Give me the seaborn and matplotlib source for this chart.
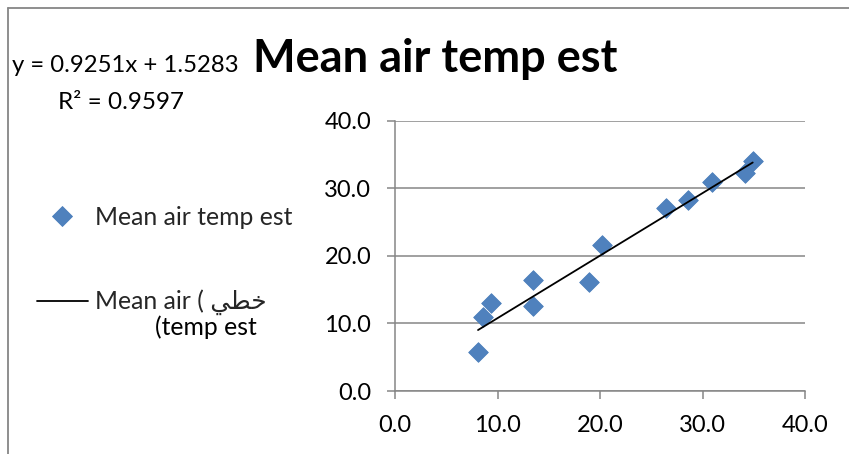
import numpy as np
import pandas as pd
import matplotlib
matplotlib.use("Agg")
import matplotlib.pyplot as plt
from matplotlib.lines import Line2D
from matplotlib.ticker import FormatStrFormatter
import seaborn as sns

# ---- data ----
mean_air_x = [8.1, 8.6, 9.4, 13.5, 13.5, 18.9, 20.2, 26.4, 28.6, 30.9, 34.1, 34.9]
mean_air_y = [5.7, 10.9, 13.0, 16.4, 12.6, 16.1, 21.6, 27.1, 28.2, 30.9, 32.2, 34.1]
trend_slope = 0.9251
trend_intercept = 1.5283
trend_r2 = 0.9597
title_text = "Mean air temp est"
series_label = "Mean air temp est"
# Arabic word "خطي" written in visual (presentation-form) order for left-to-right rendering
arabic_word = "\uFEF2\uFEC4\uFEA7"
trend_label_line1 = "Mean air ( " + arabic_word
trend_label_line2 = "(temp est"
axis_ticks = [0, 10, 20, 30, 40]

df = pd.DataFrame({"x": mean_air_x, "y": mean_air_y})
tx = np.array([min(mean_air_x), max(mean_air_x)])
trend_df = pd.DataFrame({"x": tx, "y": trend_slope * tx + trend_intercept})

sns.set_theme(style="white")
plt.rcParams["font.family"] = ["Lato", "DejaVu Sans"]

W, H = 849, 454
fig = plt.figure(figsize=(W / 100, H / 100), dpi=100)
ax = fig.add_axes([395 / W, 1 - 391 / H, (805 - 395) / W, (391 - 120.7) / H])

GRAY = "#868686"
BLUE = "#4F81BD"

sns.scatterplot(data=df, x="x", y="y", marker="D", s=100, color=BLUE,
                edgecolor="#4A7EBB", linewidth=0.6, ax=ax, zorder=3,
                label=series_label, legend=False)
sns.lineplot(data=trend_df, x="x", y="y", color="black", linewidth=1.3,
             ax=ax, zorder=4, legend=False)

ax.set_xlim(axis_ticks[0], axis_ticks[-1])
ax.set_ylim(axis_ticks[0], axis_ticks[-1])
ax.set_xticks(axis_ticks)
ax.set_yticks(axis_ticks)
ax.xaxis.set_major_formatter(FormatStrFormatter("%.1f"))
ax.yaxis.set_major_formatter(FormatStrFormatter("%.1f"))
ax.set_xlabel("")
ax.set_ylabel("")

ax.yaxis.grid(True, color=GRAY, linewidth=1.1)
ax.xaxis.grid(False)
ax.set_axisbelow(True)
for s in ["top", "right"]:
    ax.spines[s].set_visible(False)
for s in ["left", "bottom"]:
    ax.spines[s].set_color(GRAY)
    ax.spines[s].set_linewidth(1.1)
ax.tick_params(axis="both", which="major", direction="out", length=6,
               width=1.1, color=GRAY, labelsize=17, labelcolor="black",
               bottom=True, left=True)
ax.tick_params(axis="x", pad=11.5)
ax.tick_params(axis="y", pad=11)
for lab in ax.get_xticklabels() + ax.get_yticklabels():
    lab.set_clip_on(False)

# title and trendline equation
fig.text(435.5 / W, 1 - 72.5 / H, title_text, ha="center", va="baseline",
         fontsize=32.5, fontweight="bold", color="black")
fig.text(125 / W, 1 - 71.5 / H, f"y = {trend_slope:.4f}x + {trend_intercept:.4f}",
         ha="center", va="baseline", fontsize=17.2, color="black")
fig.text(121.5 / W, 1 - 109 / H, f"R² = {trend_r2:.4f}",
         ha="center", va="baseline", fontsize=17.5, color="black")

# legend
handles = [Line2D([], [], marker="D", linestyle="none", markersize=10,
                  markerfacecolor=BLUE, markeredgecolor="#4A7EBB", markeredgewidth=0.6),
           Line2D([], [], color="black", linewidth=1.3)]
leg = fig.legend(handles, [series_label, trend_label_line1],
                 loc="upper left", bbox_to_anchor=(36.5 / W, 1 - 206 / H),
                 frameon=False, fontsize=17.8, handlelength=2.1,
                 handletextpad=0.25, labelspacing=2.45, borderpad=0,
                 borderaxespad=0)
fig.text(257 / W, 1 - 335 / H, trend_label_line2, ha="right", va="baseline",
         fontsize=17.8, color="black")

# chart-area border (top and left edges visible)
fig.add_artist(Line2D([8 / W, 1], [1 - 8 / H, 1 - 8 / H], transform=fig.transFigure,
                      color=GRAY, linewidth=1.3))
fig.add_artist(Line2D([8 / W, 8 / W], [1 - 8 / H, 0], transform=fig.transFigure,
                      color=GRAY, linewidth=1.3))

fig.savefig("out.png", dpi=100)
